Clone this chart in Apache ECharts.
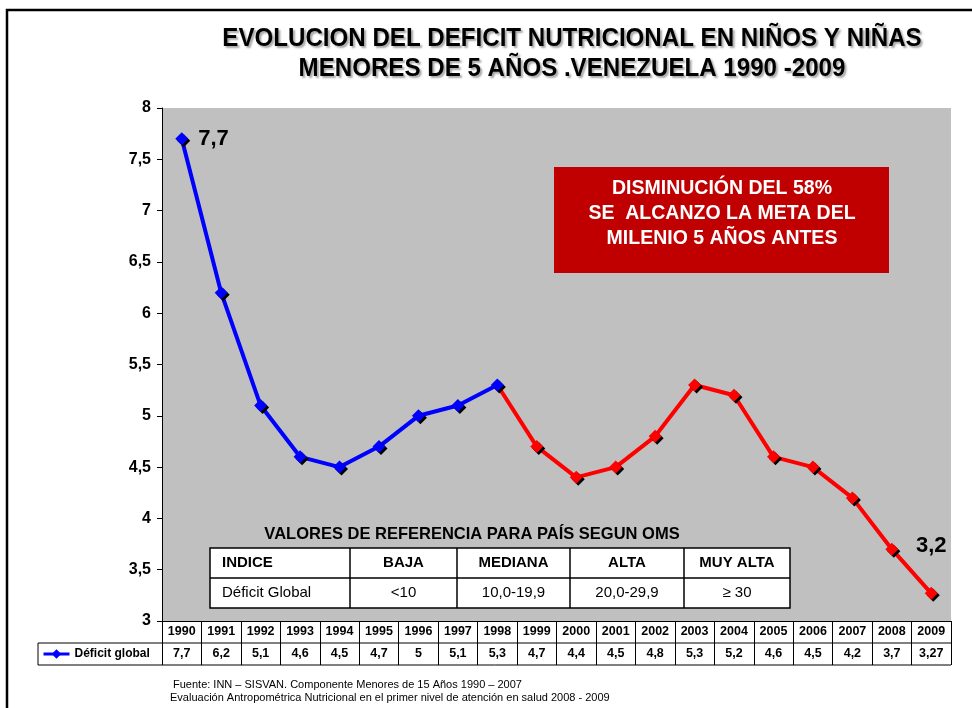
<!DOCTYPE html>
<html>
<head>
<meta charset="utf-8">
<script src="https://cdn.jsdelivr.net/npm/echarts@6/dist/echarts.min.js"></script>
<style>
  html, body { margin: 0; padding: 0; background: #fff; }
  #main { width: 972px; height: 708px; }
</style>
</head>
<body>
<div id="main"></div>
<script>
var years = ['1990','1991','1992','1993','1994','1995','1996','1997','1998','1999',
             '2000','2001','2002','2003','2004','2005','2006','2007','2008','2009'];
var deficit = [7.7, 6.2, 5.1, 4.6, 4.5, 4.7, 5, 5.1, 5.3, 4.7,
               4.4, 4.5, 4.8, 5.3, 5.2, 4.6, 4.5, 4.2, 3.7, 3.27];
var pointLabels = ['7,7','','','','','','','','','','','','','','','','','','','3,2'];
var splitIndex = 8; // 1998: azul hasta aqui, rojo desde aqui

var titleLines = ['EVOLUCION DEL DEFICIT NUTRICIONAL EN NIÑOS Y NIÑAS',
                  'MENORES DE 5 AÑOS .VENEZUELA 1990 -2009'];
var boxLines = ['DISMINUCIÓN DEL 58%', 'SE  ALCANZO LA META DEL', 'MILENIO 5 AÑOS ANTES'];
var refTitle = 'VALORES DE REFERENCIA PARA PAÍS SEGUN OMS';
var refHeaders = ['INDICE', 'BAJA', 'MEDIANA', 'ALTA', 'MUY ALTA'];
var refValues = ['Déficit Global', '<10', '10,0-19,9', '20,0-29,9', '≥ 30'];
var sourceLines = ['Fuente: INN – SISVAN. Componente Menores de 15 Años 1990 – 2007',
                   'Evaluación Antropométrica Nutricional en el primer nivel de atención en salud 2008 - 2009'];

var FONT = '"Liberation Sans", Arial, sans-serif';

function comma(v) { return String(v).replace('.', ','); }

function labelFor(i) {
  if (!pointLabels[i]) return null;
  return {
    show: true,
    position: i === 0 ? 'right' : 'top',
    distance: i === 0 ? 10 : 30,
    formatter: pointLabels[i],
    fontSize: 22, fontWeight: 'bold', color: '#000', fontFamily: FONT
  };
}

var blueData = deficit.map(function (v, i) {
  if (i > splitIndex) return '-';
  var lb = labelFor(i);
  return lb ? { value: v, label: lb } : v;
});
var redData = deficit.map(function (v, i) {
  if (i < splitIndex) return '-';
  var item = { value: v };
  if (i === splitIndex) item.symbolSize = 0;
  var lb = labelFor(i);
  if (lb) item.label = lb;
  return item;
});

// tabla de referencia (anotacion dentro del grafico)
var tx = [210, 350, 457, 570, 684, 790];
var graphics = [];
graphics.push({ type: 'rect', shape: { x: 210, y: 548, width: 580, height: 60 },
  style: { fill: '#fff', stroke: '#000', lineWidth: 1.5 }, z: 10 });
graphics.push({ type: 'line', shape: { x1: 210, y1: 578, x2: 790, y2: 578 },
  style: { stroke: '#000', lineWidth: 1.5 }, z: 11 });
for (var c = 1; c < 5; c++) {
  graphics.push({ type: 'line', shape: { x1: tx[c], y1: 548, x2: tx[c], y2: 608 },
    style: { stroke: '#000', lineWidth: 1.5 }, z: 11 });
}
refHeaders.forEach(function (h, c) {
  graphics.push({ type: 'text', z: 12, style: {
    text: h, x: c === 0 ? 222 : (tx[c] + tx[c + 1]) / 2, y: 563,
    textAlign: c === 0 ? 'left' : 'center', textVerticalAlign: 'middle',
    font: 'bold 15px ' + FONT, fill: '#000' } });
});
refValues.forEach(function (h, c) {
  graphics.push({ type: 'text', z: 12, style: {
    text: h, x: c === 0 ? 222 : (tx[c] + tx[c + 1]) / 2, y: 593,
    textAlign: c === 0 ? 'left' : 'center', textVerticalAlign: 'middle',
    font: '15px ' + FONT, fill: '#000' } });
});
graphics.push({ type: 'text', z: 12, style: {
  text: refTitle, x: 472, y: 534, textAlign: 'center', textVerticalAlign: 'middle',
  font: 'bold 16.5px ' + FONT, fill: '#000' } });

// recuadro rojo
graphics.push({ type: 'rect', shape: { x: 554, y: 167, width: 335, height: 106 },
  style: { fill: '#C00000' }, z: 10 });
boxLines.forEach(function (t, i) {
  graphics.push({ type: 'text', z: 11, style: {
    text: t, x: 722, y: 189 + i * 25, textAlign: 'center', textVerticalAlign: 'middle',
    font: 'bold 19.5px ' + FONT, fill: '#fff' } });
});

// titulo (letra algo comprimida, con sombra)
titleLines.forEach(function (t, i) {
  graphics.push({ type: 'text', z: 11, x: 572, y: 38.5 + i * 30, scaleX: 0.91, style: {
    text: t, x: 0, y: 0, textAlign: 'center', textVerticalAlign: 'middle',
    font: 'bold 26.5px ' + FONT, fill: '#000',
    textShadowColor: 'rgba(0,0,0,0.35)', textShadowOffsetX: 2, textShadowOffsetY: 2, textShadowBlur: 2 } });
});

// fuente
sourceLines.forEach(function (t, i) {
  graphics.push({ type: 'text', z: 11, style: {
    text: t, x: i === 0 ? 173 : 170, y: 685 + i * 13, textAlign: 'left', textVerticalAlign: 'middle',
    font: '11px ' + FONT, fill: '#000' } });
});

// marco exterior
graphics.push({ type: 'polyline', shape: { points: [[7, 720], [7, 10], [980, 10]] },
  style: { stroke: '#000', lineWidth: 2.5, fill: null }, z: 1 });

// lineas de la tabla de datos
graphics.push({ type: 'line', shape: { x1: 38, y1: 643, x2: 951, y2: 643 },
  style: { stroke: '#000', lineWidth: 1 }, z: 11 });
graphics.push({ type: 'line', shape: { x1: 38, y1: 665, x2: 951, y2: 665 },
  style: { stroke: '#000', lineWidth: 1 }, z: 11 });
graphics.push({ type: 'line', shape: { x1: 38, y1: 643, x2: 38, y2: 665 },
  style: { stroke: '#000', lineWidth: 1 }, z: 11 });

var chart = echarts.init(document.getElementById('main'));
chart.setOption({
  animation: false,
  backgroundColor: '#fff',
  textStyle: { fontFamily: FONT },
  grid: { left: 162, right: 21, top: 108, bottom: 87, show: true,
    backgroundColor: '#C0C0C0', borderWidth: 0 },
  legend: {
    data: ['Déficit global'], left: 37, top: 643, itemWidth: 26, itemHeight: 12,
    itemGap: 5, selectedMode: false,
    lineStyle: { width: 3 },
    textStyle: { fontWeight: 'bold', fontSize: 12, color: '#000', fontFamily: FONT }
  },
  xAxis: {
    type: 'category', data: years, boundaryGap: true,
    axisLine: { lineStyle: { color: '#000', width: 1 } },
    axisTick: { show: true, interval: 0, length: 44, lineStyle: { color: '#000' } },
    axisLabel: {
      interval: 0, margin: 0,
      formatter: function (v, i) { return '{y|' + v + '}\n{v|' + comma(deficit[i]) + '}'; },
      rich: {
        y: { fontWeight: 'bold', fontSize: 12.5, lineHeight: 22, color: '#000', fontFamily: FONT },
        v: { fontWeight: 'bold', fontSize: 12.5, lineHeight: 22, color: '#000', fontFamily: FONT }
      }
    },
    splitLine: { show: false }
  },
  yAxis: {
    type: 'value', min: 3, max: 8, interval: 0.5,
    axisLine: { show: true, lineStyle: { color: '#000', width: 1 } },
    axisTick: { show: true, length: 5, lineStyle: { color: '#000' } },
    axisLabel: { margin: 11, fontSize: 16, fontWeight: 'bold', color: '#000', fontFamily: FONT,
      formatter: function (v) { return comma(v); } },
    splitLine: { show: false }
  },
  series: [
    {
      name: 'Déficit rojo', type: 'line', data: redData, z: 3,
      symbol: 'diamond', symbolSize: 13,
      lineStyle: { color: '#FF0000', width: 4 },
      itemStyle: { color: '#FF0000', shadowColor: '#000', shadowOffsetX: 2, shadowOffsetY: 2, shadowBlur: 0 }
    },
    {
      name: 'Déficit global', type: 'line', data: blueData, z: 4,
      symbol: 'diamond', symbolSize: 13,
      lineStyle: { color: '#0000FF', width: 4 },
      itemStyle: { color: '#0000FF', shadowColor: '#000', shadowOffsetX: 2, shadowOffsetY: 2, shadowBlur: 0 }
    }
  ],
  graphic: graphics
});
</script>
</body>
</html>
